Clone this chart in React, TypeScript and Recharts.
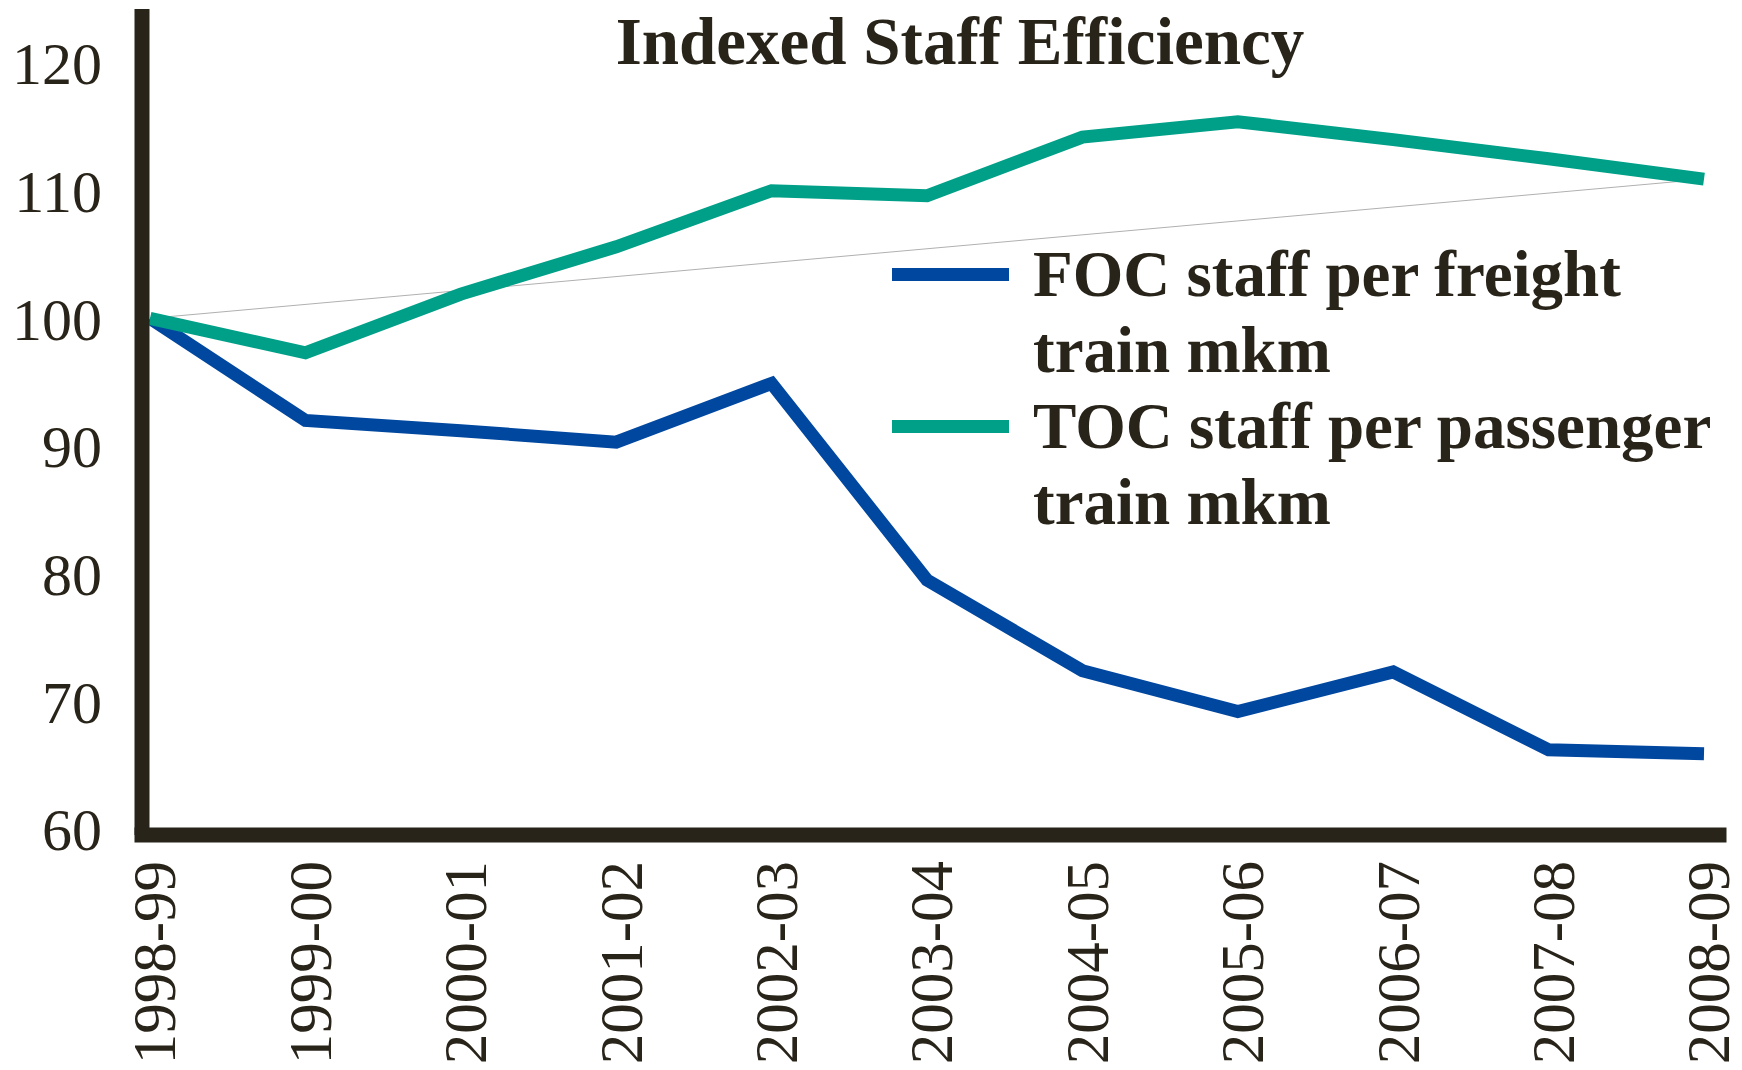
import { LineChart, Line, XAxis, YAxis, Legend } from 'recharts';

const YEARS = [
  '1998-99', '1999-00', '2000-01', '2001-02', '2002-03', '2003-04',
  '2004-05', '2005-06', '2006-07', '2007-08', '2008-09',
];
const FOC = [100, 92.0, 91.2, 90.3, 94.9, 79.5, 72.4, 69.2, 72.3, 66.2, 65.9];
const TOC = [100, 97.3, 101.9, 105.6, 110.0, 109.6, 114.2, 115.4, 114.0, 112.5, 110.9];
// thin straight guide from the first to the last passenger value
const GUIDE = [100, null, null, null, null, null, null, null, null, null, 110.9];
const Y_TICKS = [60, 70, 80, 90, 100, 110, 120];

const NAMES = {
  foc: 'FOC staff per freight\ntrain mkm',
  toc: 'TOC staff per passenger\ntrain mkm',
};

const INK = '#29241a';
const FONT = '"Liberation Serif", "Times New Roman", serif';

const data = YEARS.map((year, i) => ({
  year,
  foc: FOC[i],
  toc: TOC[i],
  guide: GUIDE[i],
}));

const YearTick = ({ x, y, payload }: any) => (
  <g transform={`translate(${x + 4},${y})`}>
    <text
      transform="rotate(-90)"
      textAnchor="end"
      dy="0.35em"
      fill={INK}
      fontSize={61}
      fontFamily={FONT}
    >
      {payload.value}
    </text>
  </g>
);

const renderLegend = ({ payload }: any) => (
  <div style={{ fontFamily: FONT, fontWeight: 700, fontSize: 65, lineHeight: '76px', color: INK }}>
    {(payload || [])
      .filter((p: any) => p.type !== 'none')
      .map((p: any) => (
        <div key={p.dataKey} style={{ display: 'flex', alignItems: 'flex-start' }}>
          <span
            style={{
              display: 'inline-block',
              width: 117,
              height: 13,
              marginTop: 32,
              marginRight: 24,
              background: p.color,
            }}
          />
          <span style={{ whiteSpace: 'pre-line' }}>{p.value}</span>
        </div>
      ))}
  </div>
);

export default function App() {
  return (
    <div style={{ position: 'absolute', left: 0, top: 0, width: 1742, height: 1070, background: '#fff' }}>
      <div
        style={{
          position: 'absolute',
          left: 560,
          width: 800,
          top: 8,
          textAlign: 'center',
          fontFamily: FONT,
          fontWeight: 700,
          fontSize: 67,
          lineHeight: '66px',
          color: INK,
          zIndex: 2,
        }}
      >
        Indexed Staff Efficiency
      </div>
      <LineChart
        width={1742}
        height={1070}
        data={data}
        margin={{ top: 9, right: 23, bottom: 0, left: 0 }}
      >
        <XAxis
          dataKey="year"
          height={235}
          padding={{ left: 8, right: 15 }}
          axisLine={{ stroke: INK, strokeWidth: 15, strokeLinecap: 'square' }}
          tickLine={false}
          tickSize={0}
          tickMargin={26}
          interval={0}
          tick={<YearTick />}
        />
        <YAxis
          width={142}
          domain={[60, 120]}
          ticks={Y_TICKS}
          padding={{ top: 54, bottom: 6 }}
          axisLine={{ stroke: INK, strokeWidth: 15 }}
          tickLine={false}
          tickSize={0}
          tickMargin={40}
          tick={{ fill: INK, fontSize: 60, fontFamily: FONT }}
        />
        <Legend
          layout="vertical"
          align="center"
          verticalAlign="middle"
          content={renderLegend}
          wrapperStyle={{ position: 'absolute', left: 892, top: 236, width: 'auto' }}
        />
        <Line
          dataKey="guide"
          stroke="#b0b0b0"
          strokeWidth={1}
          dot={false}
          connectNulls
          legendType="none"
          isAnimationActive={false}
        />
        <Line
          dataKey="foc"
          name={NAMES.foc}
          stroke="#0047a0"
          strokeWidth={13}
          dot={false}
          isAnimationActive={false}
        />
        <Line
          dataKey="toc"
          name={NAMES.toc}
          stroke="#00a088"
          strokeWidth={13}
          dot={false}
          isAnimationActive={false}
        />
      </LineChart>
    </div>
  );
}
